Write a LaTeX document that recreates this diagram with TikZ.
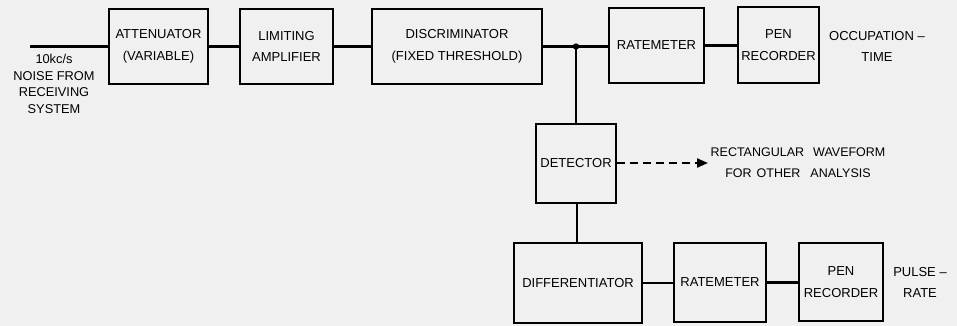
\documentclass[tikz,border=0pt]{standalone}
\usepackage{fontspec}
\setmainfont{Liberation Sans}
\usetikzlibrary{arrows.meta}
\begin{document}
\begin{tikzpicture}[x=1pt,y=-1pt,
  blk/.style={draw, line width=1.3pt, inner sep=0pt, align=center, font=\fontsize{13}{21.5}\selectfont},
  lbl/.style={inner sep=0pt, align=center, font=\fontsize{13}{21}\selectfont},
  wire/.style={line width=2.6pt}]
\useasboundingbox[fill=white!94!black] (0,0) rectangle (957,326);
% top row
\node[blk, minimum width=99, minimum height=75] (att) at (158.5,46.5) {ATTENUATOR\\(VARIABLE)};
\node[blk, minimum width=93, minimum height=75] (lim) at (286.5,46.5) {LIMITING\\AMPLIFIER};
\node[blk, minimum width=170, minimum height=75] (dis) at (457,46.5) {DISCRIMINATOR\\(FIXED THRESHOLD)};
\node[blk, minimum width=95, minimum height=75] (rm1) at (656.5,45.5) {RATEMETER};
\node[blk, minimum width=81, minimum height=76] (pr1) at (778.5,45) {PEN\\RECORDER};
\node[lbl] (occ) at (877,46) {OCCUPATION –\\TIME};
% input
\coordinate (in) at (30,46.5);
\node[lbl, font=\fontsize{12.8}{16.6}\selectfont] (noise) at (54,84) {10kc/s\\NOISE FROM\\RECEIVING\\SYSTEM};
% junction
\coordinate (j) at (576,46.5);
\fill (j) circle (3.2);
% detector
\node[blk, minimum width=80, minimum height=79] (det) at (576,163.5) {DETECTOR};
\node[lbl, font=\fontsize{12.5}{21}\selectfont] (rect) at (798,162.5) {RECTANGULAR\hspace{9pt}WAVEFORM\\FOR\hspace{5pt}OTHER\hspace{10pt}ANALYSIS};
% bottom row
\node[blk, minimum width=128, minimum height=80] (dif) at (578,283) {DIFFERENTIATOR};
\node[blk, minimum width=92, minimum height=79] (rm2) at (720,282.5) {RATEMETER};
\node[blk, minimum width=84, minimum height=78] (pr2) at (841,282) {PEN\\RECORDER};
\node[lbl] (pul) at (920,282) {PULSE –\\RATE};
% wires
\draw[wire] (in) -- (att.west |- in);
\draw[wire] (att.east) -- (lim.west);
\draw[wire] (lim.east) -- (dis.west);
\draw[wire] (dis.east) -- (j) -- (rm1.west |- j);
\draw[wire] (rm1.east) -- (pr1.west |- rm1.east);
\draw[wire] (j) -- (det.north);
\draw[wire] (det.south -| 577,0) -- (dif.north -| 577,0);
\draw[wire] (dif.east) -- (rm2.west |- dif.east);
\draw[wire] (rm2.east) -- (pr2.west |- rm2.east);
\draw[line width=2pt, dash pattern=on 8pt off 5pt, -{Triangle[length=11pt,width=9pt]}] (det.east |- 0,163) -- (708,163);
\end{tikzpicture}
\end{document}
